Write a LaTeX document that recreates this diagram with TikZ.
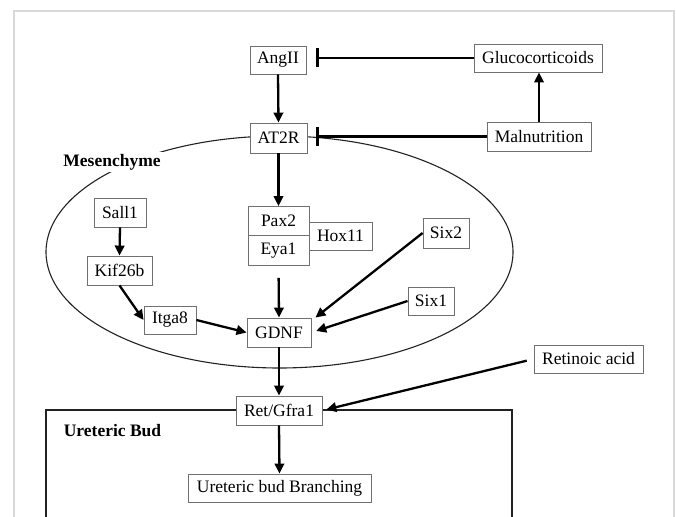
\documentclass[tikz,border=0pt]{standalone}
\usepackage{fontspec}
\setmainfont{Liberation Serif}
\usetikzlibrary{arrows.meta}
\definecolor{boxgray}{HTML}{707070}
\definecolor{framegray}{HTML}{D9D9D9}
\definecolor{shapecol}{HTML}{222222}
\begin{document}
\begin{tikzpicture}[x=1pt,y=-1pt,
  box/.style={draw=boxgray, line width=0.9pt, fill=white, inner sep=0pt,
    font=\fontsize{17.5}{20}\selectfont, text=black},
  act/.style={line width=2.3pt, -{Triangle[length=10pt,width=9.5pt]}},
  inh/.style={line width=2.3pt, -{Bar[width=19pt,line width=3pt]}},
  lbl/.style={font=\fontsize{17.5}{20}\selectfont\bfseries, inner sep=2pt, fill=white}]
\useasboundingbox (0,0) rectangle (676,516);
% outer light frame
\draw[framegray, line width=1.5pt] (14,530) -- (14,11) -- (674,11) -- (674,530);
% mesenchyme ellipse
\draw[shapecol, line width=1.1pt] (279.5,252) ellipse [x radius=233.5pt, y radius=116pt];
% ureteric bud rectangle
\draw[shapecol, line width=1.3pt] (46,530) -- (46,410) -- (512,410) -- (512,530);
% labels
\node[lbl] (mes) at (112,162) {Mesenchyme};
\node[lbl] (ub) at (112.5,431) {Ureteric Bud};
% nodes
\node[box, minimum width=56pt, minimum height=28pt] (angii) at (278,60) {AngII};
\node[box, minimum width=128pt, minimum height=28pt] (gluc) at (538,58) {Glucocorticoids};
\node[box, minimum width=57pt, minimum height=30pt] (at2r) at (278.5,138) {AT2R};
\node[box, minimum width=104pt, minimum height=29pt] (maln) at (539,136.5) {Malnutrition};
\node[box, minimum width=52pt, minimum height=29pt] (sall) at (120,212.5) {Sall1};
\node[box, minimum width=65pt, minimum height=29pt] (kif) at (119.5,270.5) {Kif26b};
\node[box, minimum width=52pt, minimum height=28pt] (itga) at (170,320) {Itga8};
\node[box, minimum width=63pt, minimum height=28pt] (hox) at (340.5,236) {Hox11};
\node[box, minimum width=61pt, minimum height=29pt] (pax) at (278.5,221) {Pax2};
\node[box, minimum width=61pt, minimum height=30pt] (eya) at (278.5,250.5) {Eya1};
\node[box, minimum width=46pt, minimum height=30pt] (six2) at (446,233) {Six2};
\node[box, minimum width=46pt, minimum height=28pt] (six1) at (431,301) {Six1};
\node[box, minimum width=64pt, minimum height=29pt] (gdnf) at (279,332.5) {GDNF};
\node[box, minimum width=109pt, minimum height=28pt] (retac) at (588.5,359) {Retinoic acid};
\node[box, minimum width=86pt, minimum height=29pt] (ret) at (279,410.5) {Ret/Gfra1};
\node[box, minimum width=183pt, minimum height=28pt] (branch) at (279.5,488) {Ureteric bud Branching};
% inhibitions
\draw[inh, shorten >=10pt] (gluc.west) -- (angii.east |- gluc.west);
\draw[inh, shorten >=9pt] (maln.west) -- (at2r.east |- maln.west);
% activations
\draw[act] (maln.north) -- (gluc.south -| maln.north);
\draw[act] (angii.south) -- (at2r.north);
\draw[act] (at2r.south) -- (pax.north);
\draw[act] (sall.south) -- (kif.north);
\draw[act] (kif.south) -- (itga.west);
\draw[act] (itga.east) -- (gdnf.west);
\draw[act, shorten <=12pt] (eya.south) -- (gdnf.north);
\draw[act] (six2.west) -- ([xshift=4pt]gdnf.north east);
\draw[act, shorten >=5pt] (six1.west) -- (gdnf.east);
\draw[act] (gdnf.south) -- (ret.north);
\draw[act, shorten <=7pt, shorten >=4pt] (retac.west) -- (ret.east);
\draw[act] (ret.south) -- (branch.north);
\end{tikzpicture}
\end{document}
